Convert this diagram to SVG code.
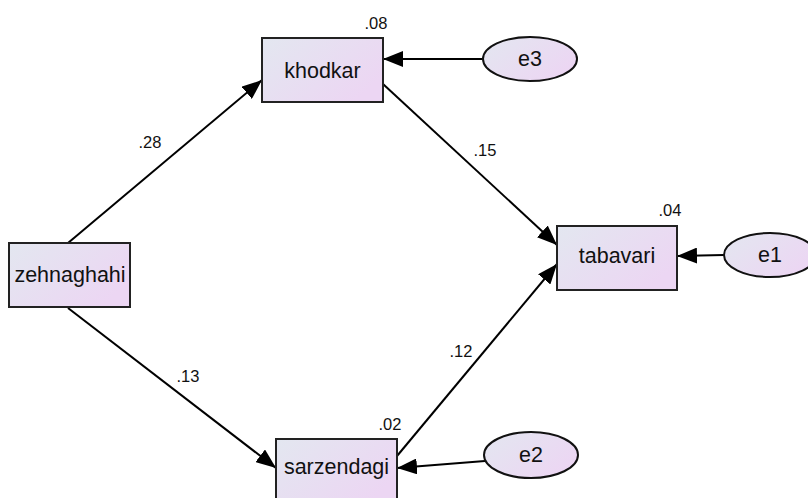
<svg xmlns="http://www.w3.org/2000/svg" width="808" height="498" viewBox="0 0 808 498">
<defs>
<linearGradient id="g" x1="0" y1="0" x2="1" y2="0.6">
<stop offset="0" stop-color="#e3e7f0"/>
<stop offset="1" stop-color="#ecd6f3"/>
</linearGradient>
<marker id="ah" viewBox="0 0 20 16" refX="20" refY="8" markerWidth="20" markerHeight="16" markerUnits="userSpaceOnUse" orient="auto">
<path d="M0,0 L20,8 L0,16 Z" fill="#000"/>
</marker>
</defs>
<style>
.box{fill:url(#g);stroke:#222;stroke-width:2}
.ell{fill:url(#g);stroke:#111;stroke-width:2}
.lbl{font-family:"Liberation Sans",Arial,sans-serif;font-size:21.5px;fill:#111;text-anchor:middle}
.num{font-family:"Liberation Sans",Arial,sans-serif;font-size:16.5px;fill:#111;text-anchor:middle}
.edge{stroke:#000;stroke-width:2;fill:none;marker-end:url(#ah)}
</style>
<rect width="808" height="498" fill="#fff"/>
<g id="connectors">
<line class="edge" x1="68" y1="243" x2="262" y2="80"/>
<line class="edge" x1="383" y1="84" x2="557" y2="245"/>
<line class="edge" x1="68" y1="308" x2="276" y2="468"/>
<line class="edge" x1="397" y1="456" x2="557" y2="264"/>
<line class="edge" x1="483" y1="59" x2="383" y2="59"/>
<line class="edge" x1="724" y1="255" x2="677" y2="256"/>
<line class="edge" x1="485" y1="461" x2="397" y2="468"/>
<text class="num" x="150" y="148">.28</text>
<text class="num" x="485" y="156">.15</text>
<text class="num" x="188" y="382">.13</text>
<text class="num" x="461" y="357">.12</text>
</g>
<g id="khodkar">
<rect class="box" x="262" y="38" width="121" height="64"/>
<text class="lbl" x="322.5" y="78">khodkar</text>
<text class="num" x="376" y="29">.08</text>
</g>
<g id="zehnaghahi">
<rect class="box" x="9" y="243" width="121" height="64"/>
<text class="lbl" x="70" y="282">zehnaghahi</text>
</g>
<g id="tabavari">
<rect class="box" x="557" y="226" width="120" height="64"/>
<text class="lbl" x="617" y="263">tabavari</text>
<text class="num" x="670" y="216">.04</text>
</g>
<g id="sarzendagi">
<rect class="box" x="276" y="439" width="121" height="64"/>
<text class="lbl" x="336.5" y="474">sarzendagi</text>
<text class="num" x="390" y="430">.02</text>
</g>
<g id="e3">
<ellipse class="ell" cx="530" cy="59" rx="47" ry="22"/>
<text class="lbl" x="530" y="66">e3</text>
</g>
<g id="e1">
<ellipse class="ell" cx="770" cy="255" rx="46" ry="22"/>
<text class="lbl" x="770" y="262">e1</text>
</g>
<g id="e2">
<ellipse class="ell" cx="531" cy="455" rx="47" ry="23"/>
<text class="lbl" x="531" y="462">e2</text>
</g>
</svg>
